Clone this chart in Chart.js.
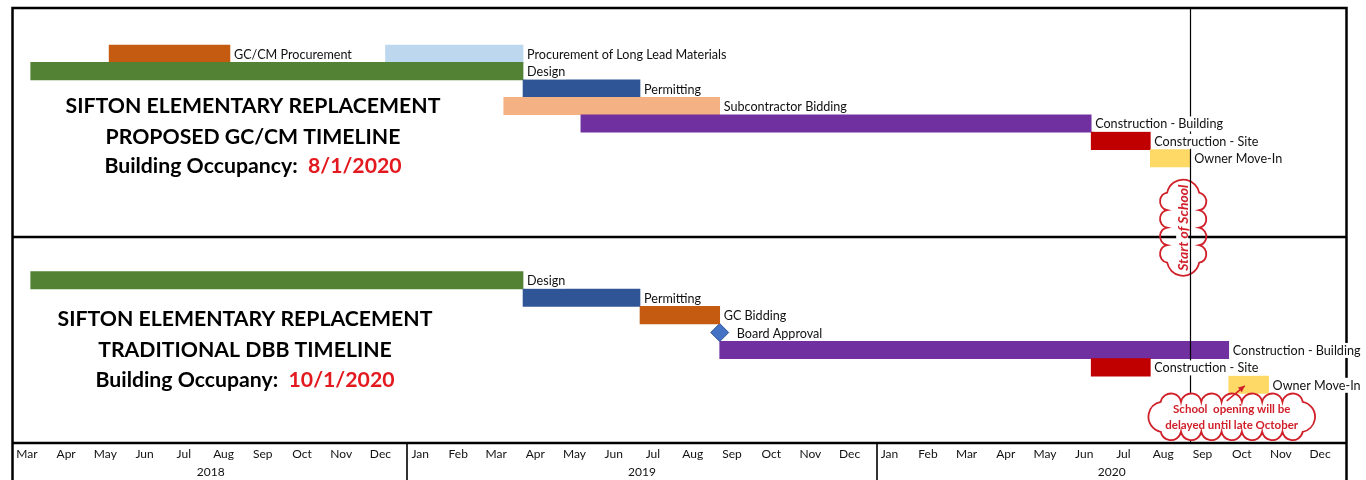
<!DOCTYPE html>
<html><head><meta charset="utf-8">
<script src="https://cdn.jsdelivr.net/npm/chart.js@4.4.1/dist/chart.umd.min.js"></script>
<style>html,body{margin:0;padding:0;background:#fff;overflow:hidden}#wrap{width:1366px;height:480px;position:relative}</style>
</head><body><div id="wrap"><canvas id="c" width="1366" height="480"></canvas></div>
<script>
// ---------- DATA ----------
const monthLabels = ['Mar','Apr','May','Jun','Jul','Aug','Sep','Oct','Nov','Dec',
  'Jan','Feb','Mar','Apr','May','Jun','Jul','Aug','Sep','Oct','Nov','Dec',
  'Jan','Feb','Mar','Apr','May','Jun','Jul','Aug','Sep','Oct','Nov','Dec'];
const yearLabels = ['2018','2019','2020'];
const yearStarts = ['2018-03-01','2019-01-01','2020-01-01','2021-01-01'];

// Proposed GC/CM timeline (top panel)
const topTasks  = ['GC/CM Procurement','Procurement of Long Lead Materials','Design','Permitting','Subcontractor Bidding','Construction - Building','Construction - Site','Owner Move-In'];
const topRows   = [0,0,1,2,3,4,5,6];
const topStart  = ['2018-05-14','2018-12-15','2018-03-14','2019-04-01','2019-03-17','2019-05-16','2020-06-16','2020-08-01'];
const topEnd    = ['2018-08-16','2019-04-01','2019-04-01','2019-07-01','2019-09-01','2020-06-16','2020-08-01','2020-09-01'];
const topColors = ['#C55A11','#BDD7EE','#548235','#2F5597','#F4B183','#7030A0','#C00000','#FFD966'];

// Traditional DBB timeline (bottom panel)
const botTasks  = ['Design','Permitting','GC Bidding','Construction - Building','Construction - Site','Owner Move-In'];
const botRows   = [13,14,15,17,18,19];
const botStart  = ['2018-03-14','2019-04-01','2019-07-01','2019-09-01','2020-06-16','2020-10-01'];
const botEnd    = ['2019-04-01','2019-07-01','2019-09-01','2020-10-01','2020-08-01','2020-11-01'];
const botColors = ['#548235','#2F5597','#C55A11','#7030A0','#C00000','#FFD966'];

const milestoneName = 'Board Approval';
const milestoneDate = '2019-09-01';
const milestoneRow  = 16;

const startOfSchool = '2020-09-01';
const topTitle = ['SIFTON ELEMENTARY REPLACEMENT','PROPOSED GC/CM TIMELINE'];
const topOcc   = ['Building Occupancy:  ','8/1/2020'];
const botTitle = ['SIFTON ELEMENTARY REPLACEMENT','TRADITIONAL DBB TIMELINE'];
const botOcc   = ['Building Occupany:  ','10/1/2020'];
const cloudTop = 'Start of School';
const cloudBot = ['School  opening will be','delayed until late October'];

// ---------- HELPERS ----------
const T0 = Date.UTC(2018,2,1);
function dayOf(s){const [y,m,d]=s.split('-').map(Number);return (Date.UTC(y,m-1,d)-T0)/864e5;}
function monthMid(i){const a=(Date.UTC(2018,2+i,1)-T0)/864e5,b=(Date.UTC(2018,3+i,1)-T0)/864e5;return (a+b)/2;}
const X_MAX = dayOf(yearStarts[3]);

const barData=[], barColors=[], barNames=[];
topTasks.forEach((n,i)=>{barData.push({x:[dayOf(topStart[i]),dayOf(topEnd[i])],y:topRows[i]});barColors.push(topColors[i]);barNames.push(n);});
botTasks.forEach((n,i)=>{barData.push({x:[dayOf(botStart[i]),dayOf(botEnd[i])],y:botRows[i]});barColors.push(botColors[i]);barNames.push(n);});

const FONT='Lato';
const RED='#D0202A';

function cloudPath(ctx,cx,cy,w,h,nx,ny){
  const x0=cx-w/2,y0=cy-h/2,x1=cx+w/2,y1=cy+h/2,pts=[];
  for(let i=0;i<nx;i++)pts.push([x0+(x1-x0)*i/nx,y0]);
  for(let i=0;i<ny;i++)pts.push([x1,y0+(y1-y0)*i/ny]);
  for(let i=0;i<nx;i++)pts.push([x1-(x1-x0)*i/nx,y1]);
  for(let i=0;i<ny;i++)pts.push([x0,y1-(y1-y0)*i/ny]);
  ctx.beginPath();
  for(let i=0;i<pts.length;i++){
    const a=pts[i],b=pts[(i+1)%pts.length];
    const mx=(a[0]+b[0])/2,my=(a[1]+b[1])/2,dx=b[0]-a[0],dy=b[1]-a[1];
    const len=Math.hypot(dx,dy),r=len/2*1.02,off=Math.sqrt(Math.max(0,r*r-len*len/4));
    const ox=dy/len,oy=-dx/len; // outward
    const ccx=mx-ox*off,ccy=my-oy*off;
    ctx.arc(ccx,ccy,r,Math.atan2(a[1]-ccy,a[0]-ccx),Math.atan2(b[1]-ccy,b[0]-ccx),false);
  }
  ctx.closePath();
}

const overlay={
  id:'overlay',
  beforeDatasetsDraw(chart){
    const ctx=chart.ctx,xs=chart.scales.x,ys=chart.scales.y,ca=chart.chartArea;
    ctx.save();
    ctx.strokeStyle='#000';ctx.lineWidth=2.5;
    ctx.beginPath();
    ctx.moveTo(12.5,480);ctx.lineTo(12.5,8);ctx.lineTo(1346.5,8);ctx.lineTo(1346.5,480);
    const dv=Math.round(ys.getPixelForValue(10.5));
    ctx.moveTo(12.5,dv);ctx.lineTo(1346.5,dv);
    ctx.moveTo(12.5,ca.bottom);ctx.lineTo(1346.5,ca.bottom);
    ctx.stroke();
    ctx.lineWidth=1.6;ctx.beginPath();
    [1,2].forEach(k=>{const px=Math.round(xs.getPixelForValue(dayOf(yearStarts[k])));ctx.moveTo(px,ca.bottom);ctx.lineTo(px,480);});
    ctx.stroke();
    ctx.restore();
  },
  afterDatasetsDraw(chart){
    const ctx=chart.ctx,xs=chart.scales.x,ys=chart.scales.y,ca=chart.chartArea;
    ctx.save();
    // titles
    const titleSize=20*375/(()=>{ctx.font=`bold 20px ${FONT}`;return ctx.measureText(topTitle[0]).width;})();
    function titleBlock(lines,occ,cx,ys3){
      ctx.font=`bold ${titleSize}px ${FONT}`;ctx.textBaseline='middle';ctx.fillStyle='#000';ctx.textAlign='center';
      ctx.fillText(lines[0],cx,ys3[0]);ctx.fillText(lines[1],cx,ys3[1]);
      const w1=ctx.measureText(occ[0]).width,w2=ctx.measureText(occ[1]).width,sx=cx-(w1+w2)/2;
      ctx.textAlign='left';ctx.fillText(occ[0],sx,ys3[2]);ctx.fillStyle='#E3191F';ctx.fillText(occ[1],sx+w1,ys3[2]);
    }
    titleBlock(topTitle,topOcc,253,[106,137,166]);
    titleBlock(botTitle,botOcc,245,[319,350,380]);

    // top cloud (outline only)
    const sx=xs.getPixelForValue(dayOf(startOfSchool));
    const dv=ys.getPixelForValue(10.5);
    const tcx=sx-7,tcy=dv-9;
    ctx.strokeStyle=RED;ctx.lineWidth=1.8;
    cloudPath(ctx,tcx,tcy,32,70,1,4);ctx.stroke();
    ctx.save();ctx.translate(tcx-1,tcy);ctx.rotate(-Math.PI/2);
    ctx.font=`italic bold 14px ${FONT}`;ctx.textAlign='center';ctx.textBaseline='middle';
    const tw=ctx.measureText(cloudTop).width;ctx.fillStyle='#fff';ctx.fillRect(-tw/2-1,-6,tw+2,12);
    ctx.fillStyle=RED;ctx.fillText(cloudTop,0,1);ctx.restore();

    // start of school line
    ctx.strokeStyle='#000';ctx.lineWidth=1.2;ctx.beginPath();
    ctx.moveTo(Math.round(sx)+0.5,8);ctx.lineTo(Math.round(sx)+0.5,ca.bottom);ctx.stroke();

    // bar labels
    const meta=chart.getDatasetMeta(0);
    ctx.font=`12.6px ${FONT}`;ctx.textBaseline='middle';ctx.textAlign='left';
    meta.data.forEach((bar,i)=>{
      const p=bar.getProps(['x','y','base']);const xe=Math.max(p.x,p.base)+4;
      const w=ctx.measureText(barNames[i]).width;
      ctx.fillStyle='#fff';ctx.fillRect(xe-1,p.y-7,w+2,15);
      ctx.fillStyle='#111';ctx.fillText(barNames[i],xe,p.y+1);
    });
    const mp=chart.getDatasetMeta(1).data[0];
    ctx.fillStyle='#111';ctx.fillText(milestoneName,mp.x+17,mp.y+1);

    // bottom cloud
    const ocx=xs.getPixelForValue(dayOf(botStart[5]))+3,ocy=ys.getPixelForValue(19)+32;
    cloudPath(ctx,ocx,ocy,142,30,7,1);
    ctx.fillStyle='#fff';ctx.fill();ctx.strokeStyle=RED;ctx.lineWidth=1.8;ctx.stroke();
    ctx.font=`bold 11.5px ${FONT}`;ctx.textAlign='center';ctx.fillStyle=RED;
    ctx.fillText(cloudBot[0],ocx,ocy-8);ctx.fillText(cloudBot[1],ocx,ocy+8);
    // arrow
    const ax0=ocx-5,ay0=ocy-16,ax1=ocx+13,ay1=ocy-31;
    ctx.beginPath();ctx.moveTo(ax0,ay0);ctx.lineTo(ax1,ay1);ctx.lineWidth=1.5;ctx.stroke();
    const ang=Math.atan2(ay1-ay0,ax1-ax0);
    ctx.beginPath();ctx.moveTo(ax1,ay1);
    ctx.lineTo(ax1-7*Math.cos(ang-0.45),ay1-7*Math.sin(ang-0.45));
    ctx.lineTo(ax1-7*Math.cos(ang+0.45),ay1-7*Math.sin(ang+0.45));ctx.closePath();ctx.fillStyle=RED;ctx.fill();
    ctx.restore();
  }
};

function noPad(h){return ax=>{ax.height=h;ax.paddingLeft=0;ax.paddingRight=0;};}

new Chart(document.getElementById('c'),{
  type:'bar',
  data:{datasets:[
    {type:'bar',indexAxis:'y',data:barData,backgroundColor:barColors,borderWidth:0,barPercentage:1,categoryPercentage:1,grouped:false,xAxisID:'x',yAxisID:'y'},
    {type:'scatter',data:[{x:dayOf(milestoneDate),y:milestoneRow}],pointStyle:'rectRot',pointRadius:9,backgroundColor:'#4472C4',borderColor:'#2F5597',borderWidth:1,xAxisID:'x',yAxisID:'y'}
  ]},
  options:{
    responsive:false,animation:false,
    layout:{padding:{left:14,right:19,top:8,bottom:0}},
    plugins:{legend:{display:false},tooltip:{enabled:false},title:{display:false}},
    scales:{
      x:{type:'linear',position:'bottom',min:0,max:X_MAX,weight:0,offset:false,bounds:'data',
        grid:{display:false,drawTicks:false,offset:false},border:{display:false},
        afterBuildTicks:ax=>{ax.ticks=monthLabels.map((_,i)=>({value:monthMid(i)}));},
        afterFit:noPad(20),
        ticks:{autoSkip:false,maxRotation:0,minRotation:0,padding:4,labelOffset:-7,color:'#111',font:{family:FONT,size:12},callback:(v,i)=>monthLabels[i]}},
      x2:{type:'linear',position:'bottom',min:0,max:X_MAX,weight:1,offset:false,bounds:'data',
        grid:{display:false,drawTicks:false,offset:false},border:{display:false},
        afterBuildTicks:ax=>{ax.ticks=yearLabels.map((_,i)=>({value:(dayOf(yearStarts[i])+dayOf(yearStarts[i+1]))/2}));},
        afterFit:noPad(17),
        ticks:{autoSkip:false,maxRotation:0,minRotation:0,padding:2,color:'#111',font:{family:FONT,size:12},callback:(v,i)=>yearLabels[i]}},
      y:{type:'linear',reverse:true,min:-2.51,max:22.34,display:false,offset:false,bounds:'data',grid:{offset:false},
        afterBuildTicks:ax=>{ax.ticks=[{value:10.5}];}}
    }
  },
  plugins:[overlay]
});
</script></body></html>
